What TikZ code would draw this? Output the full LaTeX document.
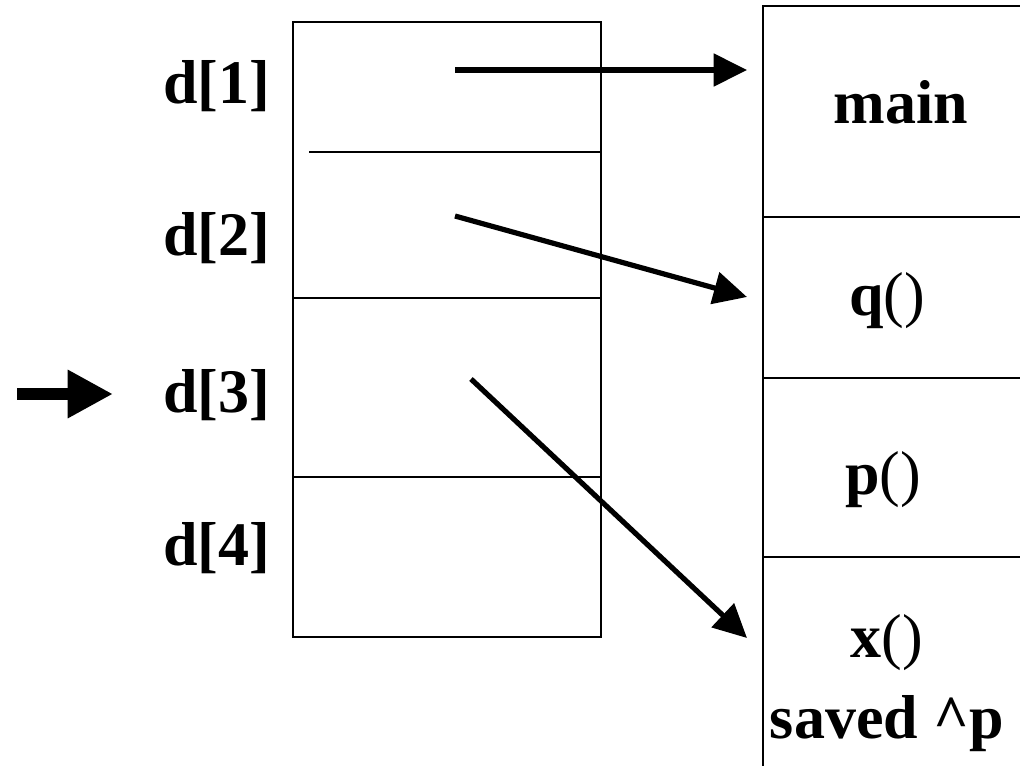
\documentclass[tikz,border=0pt]{standalone}
\usepackage{fontspec}
\setmainfont{Liberation Serif}
\usetikzlibrary{arrows.meta}
\begin{document}
\begin{tikzpicture}[x=0.75pt,y=-0.75pt,
  cellline/.style={line width=1.1pt,black},
  ptr/.style={line width=3.9pt,-{Triangle[length=25pt,width=24pt]}},
  bigptr/.style={line width=9pt,-{Triangle[length=34pt,width=34pt]}},
  lbl/.style={font=\fontsize{46.5}{50}\selectfont\bfseries,inner sep=0pt,anchor=base west},
  flbl/.style={font=\fontsize{46.5}{50}\selectfont\bfseries,inner sep=0pt,anchor=base},
]
\useasboundingbox (0,0) rectangle (1020,765);
\clip (0,0) rectangle (1020,765);
% left array
\draw[cellline] (293,22) rectangle (601,637);
\draw[cellline] (309,152) -- (601,152);
\draw[cellline] (293,298) -- (601,298);
\draw[cellline] (293,477) -- (601,477);
% right stack
\draw[cellline] (1030,6) -- (763,6) -- (763,775);
\draw[cellline] (763,217) -- (1030,217);
\draw[cellline] (763,378) -- (1030,378);
\draw[cellline] (763,557) -- (1030,557);
% labels
\node[lbl] (d1) at (163,103) {d[1]};
\node[lbl] (d2) at (163,255) {d[2]};
\node[lbl] (d3) at (163,412) {d[3]};
\node[lbl] (d4) at (163,565) {d[4]};
\node[flbl] (fmain) at (901,123) {main};
\node[flbl] (fq) at (887,315) {q\textmd{()}};
\node[flbl] (fp) at (883,494) {p\textmd{()}};
\node[flbl] (fx) at (887,657) {x\textmd{()}};
\node[flbl] (fs) at (887,738) {saved {\char"5E}p};
% pointer coordinates
\coordinate (s1) at (455,70);
\coordinate (e1) at (747,70);
\coordinate (s2) at (455,216);
\coordinate (e2) at (747,297);
\coordinate (s3) at (471,379);
\coordinate (e3) at (747,638);
\coordinate (cs) at (17,394);
\coordinate (ce) at (113,394);
\draw[ptr] (s1) -- (e1);
\draw[ptr] (s2) -- (e2);
\draw[ptr] (s3) -- (e3);
\draw[bigptr] (cs) -- (ce);
\end{tikzpicture}
\end{document}
